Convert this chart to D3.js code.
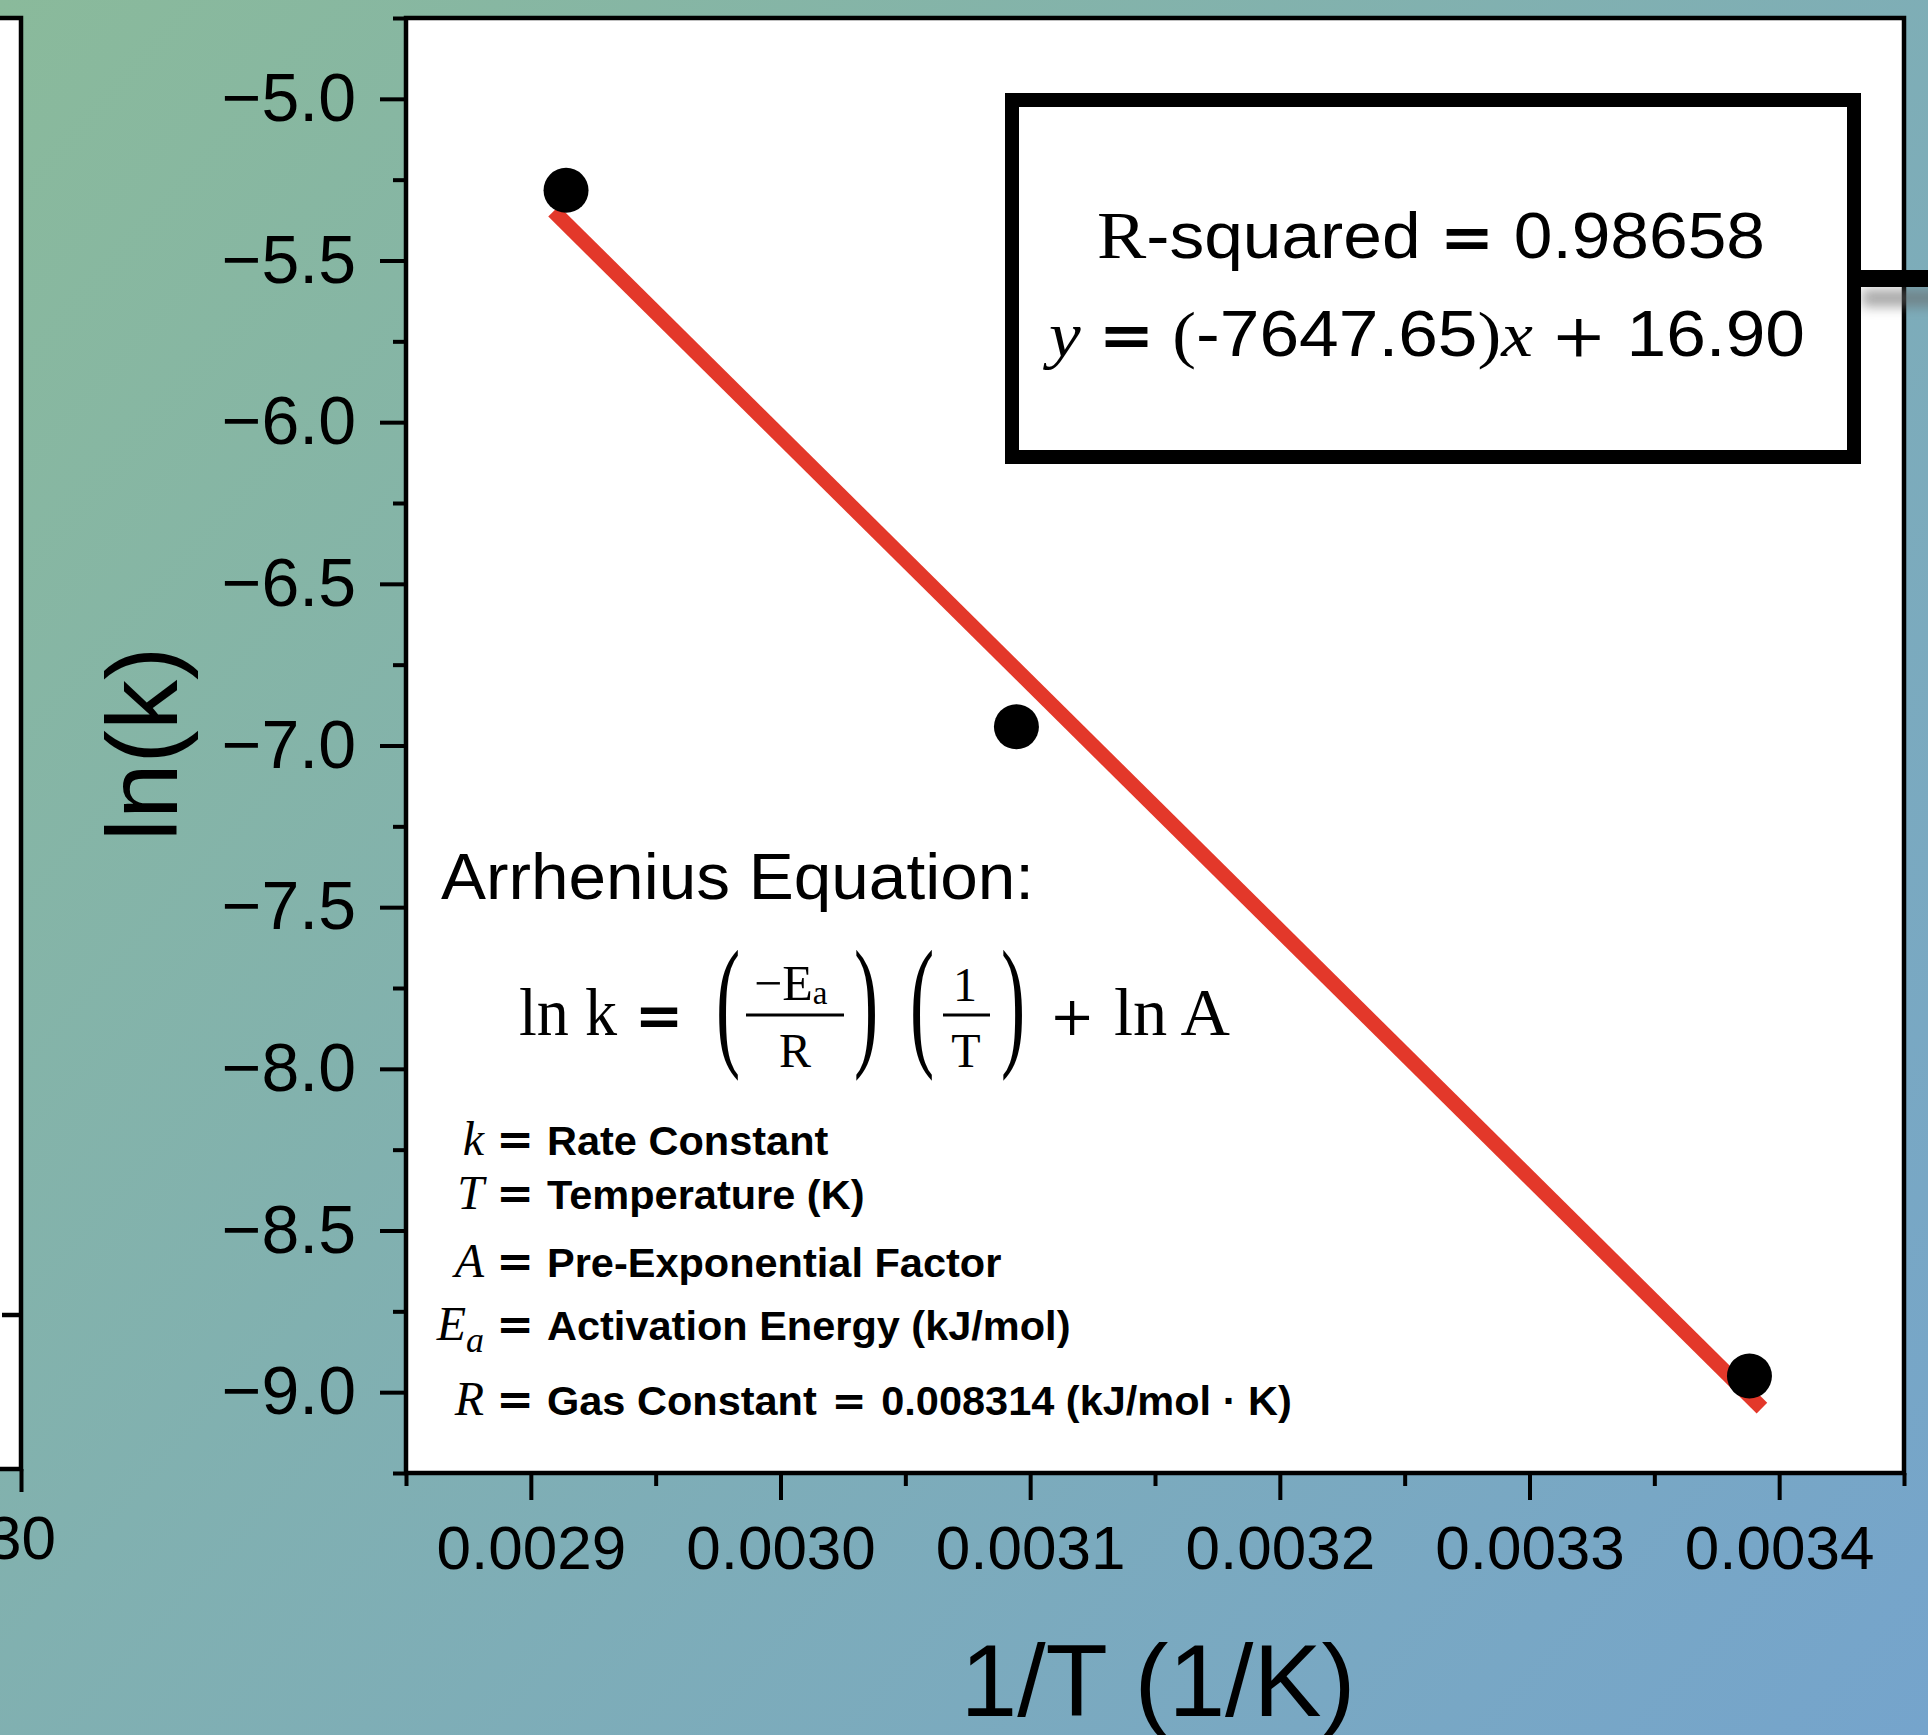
<!DOCTYPE html>
<html>
<head>
<meta charset="utf-8">
<script src="https://cdn.jsdelivr.net/npm/d3@7"></script>
<style>
  body { margin: 0; background: #80afb3; }
  svg { display: block; }
</style>
</head>
<body>
<div id="chart"></div>
<script>
// data
var invT = [0.0029141, 0.0030945, 0.0033881];
var lnK = [-5.283, -6.942, -8.950];
var fitSlope = -7647.65;
var fitIntercept = 16.90;
var rSquared = '0.98658';

var xDomain = [0.00285, 0.00345];
var yDomain = [-9.25, -4.75];
var xTicks = [0.0029, 0.0030, 0.0031, 0.0032, 0.0033, 0.0034];
var xMinorTicks = [0.00285, 0.00295, 0.00305, 0.00315, 0.00325, 0.00335, 0.00345];
var yTicks = [-5.0, -5.5, -6.0, -6.5, -7.0, -7.5, -8.0, -8.5, -9.0];
var yMinorTicks = [-4.75, -5.25, -5.75, -6.25, -6.75, -7.25, -7.75, -8.25, -8.75, -9.25];

var defVars = ['k', 'T', 'A', 'E', 'R'];
var defSubs = ['', '', '', 'a', ''];
var defTexts = ['Rate Constant', 'Temperature (K)', 'Pre-Exponential Factor',
  'Activation Energy (kJ/mol)', 'Gas Constant = 0.008314 (kJ/mol \u00b7 K)'];

(function(d3) {
  'use strict';
  var width = 1928;
  var height = 1735;
  var sans = '"Liberation Sans", Arial, Helvetica, sans-serif';
  var serif = '"Liberation Serif", "Times New Roman", serif';
  var mathOp = '"DejaVu Serif", serif';
  var left = 406, right = 1904, top = 18, bottom = 1473;

  var svg = d3.select('#chart')
    .append('svg')
    .attr('width', width)
    .attr('height', height);

  var defs = svg.append('defs');
  var grad = defs.append('linearGradient')
    .attr('id', 'bg')
    .attr('gradientUnits', 'userSpaceOnUse')
    .attr('x1', 0).attr('y1', 0)
    .attr('x2', width).attr('y2', height);
  grad.append('stop').attr('offset', '0%').attr('stop-color', '#8aba9b');
  grad.append('stop').attr('offset', '100%').attr('stop-color', '#75a4cc');
  defs.append('filter')
    .attr('id', 'blur')
    .attr('x', '-50%').attr('y', '-100%')
    .attr('width', '200%').attr('height', '300%')
    .append('feGaussianBlur')
    .attr('stdDeviation', 6);

  svg.append('rect')
    .attr('width', width)
    .attr('height', height)
    .attr('fill', 'url(#bg)');

  // the cut-off neighbour panel on the left
  svg.append('rect')
    .attr('x', -10).attr('y', top)
    .attr('width', 31).attr('height', 1451)
    .attr('fill', '#fff')
    .attr('stroke', '#000')
    .attr('stroke-width', 4.5);
  svg.append('line')
    .attr('x1', 2).attr('x2', 21)
    .attr('y1', 1315).attr('y2', 1315)
    .attr('stroke', '#000')
    .attr('stroke-width', 4.5);
  var leftX = d3.scaleLinear().domain([0, 30]).range([-1480, 21]);
  var leftAxis = svg.append('g')
    .attr('transform', 'translate(0,1469)')
    .call(d3.axisBottom(leftX).tickValues([30]).tickSize(23).tickPadding(23));
  leftAxis.select('.domain').remove();

  var x = d3.scaleLinear().domain(xDomain).range([left, right]);
  var y = d3.scaleLinear().domain(yDomain).range([bottom, top]);

  // plot area
  svg.append('rect')
    .attr('x', left).attr('y', top)
    .attr('width', right - left).attr('height', bottom - top)
    .attr('fill', '#fff');

  // fitted line
  var xExt = d3.extent(invT);
  var lineX = [xExt[0] - 0.000005, xExt[1] + 0.000005];
  svg.append('line')
    .attr('x1', x(lineX[0]))
    .attr('y1', y(fitSlope * lineX[0] + fitIntercept))
    .attr('x2', x(lineX[1]))
    .attr('y2', y(fitSlope * lineX[1] + fitIntercept))
    .attr('stroke', '#e3382a')
    .attr('stroke-width', 15);

  svg.selectAll('circle.pt')
    .data(invT)
    .enter()
    .append('circle')
    .attr('class', 'pt')
    .attr('cx', function(d) { return x(d); })
    .attr('cy', function(d, i) { return y(lnK[i]); })
    .attr('r', 22.5)
    .attr('fill', '#000');

  svg.append('rect')
    .attr('x', left).attr('y', top)
    .attr('width', right - left).attr('height', bottom - top)
    .attr('fill', 'none')
    .attr('stroke', '#000')
    .attr('stroke-width', 4.5);

  // axes
  var yAxis = svg.append('g')
    .attr('transform', 'translate(' + left + ',0)')
    .call(d3.axisLeft(y).tickValues(yTicks).tickSize(26).tickPadding(24)
      .tickFormat(d3.format('.1f')));
  var yMinor = svg.append('g')
    .attr('transform', 'translate(' + left + ',0)')
    .call(d3.axisLeft(y).tickValues(yMinorTicks).tickSize(13).tickFormat(''));
  var xAxis = svg.append('g')
    .attr('transform', 'translate(0,' + bottom + ')')
    .call(d3.axisBottom(x).tickValues(xTicks).tickSize(27).tickPadding(25)
      .tickFormat(d3.format('.4f')));
  var xMinor = svg.append('g')
    .attr('transform', 'translate(0,' + bottom + ')')
    .call(d3.axisBottom(x).tickValues(xMinorTicks).tickSize(13).tickFormat(''));

  [yAxis, yMinor, xAxis, xMinor, leftAxis].forEach(function(g) {
    g.select('.domain').remove();
    g.selectAll('.tick line').attr('stroke', '#000').attr('stroke-width', 4);
    g.selectAll('.tick text')
      .attr('fill', '#000')
      .style('font-family', sans);
  });
  yAxis.selectAll('.tick text').style('font-size', '68px');
  xAxis.selectAll('.tick text').style('font-size', '62px');
  leftAxis.selectAll('.tick text').style('font-size', '62px');

  // axis titles
  svg.append('text')
    .attr('x', (left + right) / 2 + 3)
    .attr('y', 1716)
    .attr('text-anchor', 'middle')
    .style('font-family', sans)
    .style('font-size', '102px')
    .text('1/T (1/K)');
  svg.append('text')
    .attr('transform', 'translate(177,744) rotate(-90)')
    .attr('text-anchor', 'middle')
    .style('font-family', sans)
    .style('font-size', '100px')
    .text('ln(k)');

  // R-squared box with connector
  svg.append('rect')
    .attr('x', 1862).attr('y', 289)
    .attr('width', 80).attr('height', 18)
    .attr('fill', '#666')
    .attr('opacity', 0.55)
    .attr('filter', 'url(#blur)');
  svg.append('rect')
    .attr('x', 1855).attr('y', 270)
    .attr('width', 80).attr('height', 17)
    .attr('fill', '#000');
  svg.append('rect')
    .attr('x', 1012).attr('y', 100)
    .attr('width', 842).attr('height', 357)
    .attr('fill', '#fff')
    .attr('stroke', '#000')
    .attr('stroke-width', 14);

  var t1 = svg.append('text')
    .attr('x', 1431).attr('y', 258)
    .attr('text-anchor', 'middle')
    .attr('textLength', 668)
    .attr('lengthAdjust', 'spacingAndGlyphs')
    .style('font-size', '64px');
  t1.append('tspan').style('font-family', serif).style('font-size', '68px').text('R');
  t1.append('tspan').style('font-family', sans).text('-squared ');
  t1.append('tspan').style('font-family', mathOp).style('font-weight', 'bold').style('font-size', '60px').text('=');
  t1.append('tspan').style('font-family', sans).text(' ' + rSquared);

  var t2 = svg.append('text')
    .attr('x', 1427).attr('y', 356)
    .attr('text-anchor', 'middle')
    .attr('textLength', 756)
    .attr('lengthAdjust', 'spacingAndGlyphs')
    .style('font-size', '64px');
  t2.append('tspan').style('font-family', serif).style('font-style', 'italic').text('y ');
  t2.append('tspan').style('font-family', mathOp).style('font-weight', 'bold').style('font-size', '60px').text('=');
  t2.append('tspan').style('font-family', serif).text(' (');
  t2.append('tspan').style('font-family', sans).text(fitSlope.toFixed(2).replace('\u2212', '-'));
  t2.append('tspan').style('font-family', serif).text(')');
  t2.append('tspan').style('font-family', serif).style('font-style', 'italic').text('x ');
  t2.append('tspan').style('font-family', mathOp).style('font-size', '60px').text('+');
  t2.append('tspan').style('font-family', sans).text(' ' + fitIntercept.toFixed(2));

  // Arrhenius annotation
  svg.append('text')
    .attr('x', 441).attr('y', 899)
    .attr('textLength', 593)
    .attr('lengthAdjust', 'spacingAndGlyphs')
    .style('font-family', sans)
    .style('font-size', '64px')
    .text('Arrhenius Equation:');

  var eq = svg.append('g').style('font-family', serif).attr('fill', '#000');
  eq.append('text').attr('x', 519).attr('y', 1035).style('font-size', '68px')
    .attr('textLength', 98).attr('lengthAdjust', 'spacingAndGlyphs').text('ln k');
  eq.append('text').attr('x', 659).attr('y', 1036).attr('text-anchor', 'middle')
    .style('font-family', mathOp).style('font-weight', 'bold').style('font-size', '58px').text('=');
  function paren(cx, ch) {
    eq.append('text')
      .attr('transform', 'translate(' + cx + ',1050) scale(0.5,1)')
      .attr('text-anchor', 'middle')
      .style('font-size', '145px')
      .text(ch);
  }
  paren(728, '(');
  paren(866, ')');
  paren(922, '(');
  paren(1013, ')');
  var num = eq.append('text').attr('x', 754).attr('y', 1000).style('font-size', '50px');
  num.append('tspan').text('\u2212E');
  num.append('tspan').attr('dy', 4).style('font-size', '33px').text('a');
  eq.append('line').attr('x1', 746).attr('x2', 844).attr('y1', 1015).attr('y2', 1015)
    .attr('stroke', '#000').attr('stroke-width', 3);
  eq.append('text').attr('x', 795).attr('y', 1067).attr('text-anchor', 'middle')
    .style('font-size', '48px').text('R');
  eq.append('text').attr('x', 965).attr('y', 1001).attr('text-anchor', 'middle')
    .style('font-size', '48px').text('1');
  eq.append('line').attr('x1', 943).attr('x2', 990).attr('y1', 1015).attr('y2', 1015)
    .attr('stroke', '#000').attr('stroke-width', 3);
  eq.append('text').attr('x', 966).attr('y', 1067).attr('text-anchor', 'middle')
    .style('font-size', '48px').text('T');
  eq.append('text').attr('x', 1072).attr('y', 1035).attr('text-anchor', 'middle')
    .style('font-family', mathOp).style('font-size', '54px').text('+');
  eq.append('text').attr('x', 1114).attr('y', 1035).style('font-size', '68px')
    .attr('textLength', 116).attr('lengthAdjust', 'spacingAndGlyphs').text('ln A');

  // variable definitions
  var baselines = [1155, 1209, 1277, 1340, 1415];
  defVars.forEach(function(v, i) {
    var vt = svg.append('text')
      .attr('x', 484).attr('y', baselines[i])
      .attr('text-anchor', 'end')
      .style('font-family', serif)
      .style('font-style', 'italic')
      .style('font-size', '48px');
    vt.append('tspan').text(v);
    if (defSubs[i]) {
      vt.append('tspan').attr('dy', 12).style('font-size', '36px').text(defSubs[i]);
    }
    svg.append('text')
      .attr('x', 515).attr('y', baselines[i])
      .attr('text-anchor', 'middle')
      .style('font-family', mathOp)
      .style('font-weight', 'bold')
      .style('font-size', '45px')
      .text('=');
    var dt = svg.append('text')
      .attr('x', 547).attr('y', baselines[i])
      .style('font-family', sans)
      .style('font-weight', 'bold')
      .style('font-size', '41.5px');
    var parts = defTexts[i].split(' = ');
    parts.forEach(function(p, j) {
      if (j > 0) {
        dt.append('tspan')
          .style('font-family', mathOp)
          .style('font-size', '42px')
          .text(' = ');
      }
      dt.append('tspan').text(p);
    });
  });
})(window.d3);
</script>
</body>
</html>
